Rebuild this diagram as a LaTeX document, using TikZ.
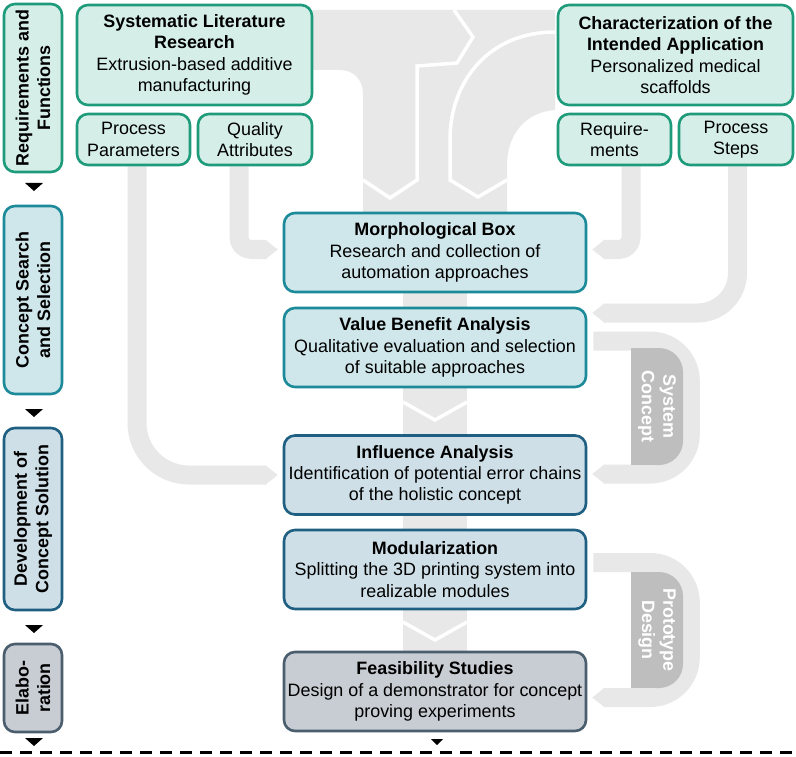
\documentclass[tikz,border=0pt]{standalone}
\usepackage{fontspec}
\setmainfont{Liberation Sans}
\usetikzlibrary{backgrounds}
\definecolor{grnL}{HTML}{D5EEE7}
\definecolor{grnD}{HTML}{1E9B7A}
\definecolor{cyL}{HTML}{CFE7EB}
\definecolor{cyD}{HTML}{1C8A99}
\definecolor{blL}{HTML}{CEDFE7}
\definecolor{blD}{HTML}{1E5F82}
\definecolor{slL}{HTML}{C8CDD3}
\definecolor{slD}{HTML}{4A5E6E}
\definecolor{bgG}{HTML}{E8E8E8}
\definecolor{tabG}{HTML}{BEBEBE}
\newcommand{\myfs}{\fontsize{17.9}{21.3}\selectfont}
\newcommand{\tipW}[1]{\fill[bgG] ([xshift=-17pt,yshift=9.5pt]#1) -- ([xshift=-5pt]#1) -- ([xshift=-17pt,yshift=-9.5pt]#1) -- cycle;}
\newcommand{\tipE}[1]{\fill[bgG] ([xshift=17pt,yshift=9.5pt]#1) -- ([xshift=5pt]#1) -- ([xshift=17pt,yshift=-9.5pt]#1) -- cycle;}
\tikzset{
  box/.style={draw, line width=2.6pt, rounded corners=11pt, align=center, inner sep=1pt, font=\myfs},
  gbox/.style={box, draw=grnD, fill=grnL},
  cbox/.style={box, draw=cyD, fill=cyL, minimum width=302pt, minimum height=79pt},
  bbox/.style={box, draw=blD, fill=blL, minimum width=302pt, minimum height=79pt},
  sbox/.style={box, draw=slD, fill=slL, minimum width=302pt, minimum height=79pt},
  phase/.style={box, rotate=90, font=\myfs\bfseries, minimum height=58pt},
  tabnode/.style={fill=tabG, rotate=-90, rounded corners=24pt, minimum height=52pt, text=white, font=\myfs\bfseries, align=center, inner sep=0pt},
  band/.style={draw=bgG, line width=19pt, line cap=butt, line join=round},
  wline/.style={draw=white, line width=3.5pt, line join=miter},
  marker/.style={fill=black}
}
\begin{document}
\begin{tikzpicture}[x=1pt,y=-1pt]
\useasboundingbox (0,0) rectangle (796,757);

% phase boxes
\node[phase, draw=grnD, fill=grnL, minimum width=168pt] (ph1) at (33,88) {Requirements and\\Functions};
\node[phase, draw=cyD, fill=cyL, minimum width=188pt] (ph2) at (33,300) {Concept Search\\and Selection};
\node[phase, draw=blD, fill=blL, minimum width=182pt] (ph3) at (33,519) {Development of\\Concept Solution};
\node[phase, draw=slD, fill=slL, minimum width=88pt] (ph4) at (33,688) {Elabo-\\ration};

% top boxes
\node[gbox, minimum width=235pt, minimum height=100pt] (slr) at (194.5,55) {\textbf{Systematic Literature}\\\textbf{Research}\\Extrusion-based additive\\manufacturing};
\node[gbox, minimum width=113pt, minimum height=51pt] (pp) at (133.5,139.5) {Process\\Parameters};
\node[gbox, minimum width=114pt, minimum height=51pt] (qa) at (255,139.5) {Quality\\Attributes};
\node[gbox, minimum width=235pt, minimum height=100pt] (cha) at (675.5,55) {\textbf{Characterization of the}\\\textbf{Intended Application}\\Personalized medical\\scaffolds};
\node[gbox, minimum width=113pt, minimum height=51pt] (rq) at (614.5,139.5) {Require-\\ments};
\node[gbox, minimum width=114pt, minimum height=51pt] (ps) at (736,139.5) {Process\\Steps};

% central boxes
\node[cbox] (morph) at (435,252.5) {\textbf{Morphological Box}\\Research and collection of\\automation approaches};
\node[cbox] (vba) at (435,347.5) {\textbf{Value Benefit Analysis}\\Qualitative evaluation and selection\\of suitable approaches};
\node[bbox] (infl) at (435,475) {\textbf{Influence Analysis}\\Identification of potential error chains\\of the holistic concept};
\node[bbox] (mod) at (435,569.5) {\textbf{Modularization}\\Splitting the 3D printing system into\\realizable modules};
\node[sbox] (feas) at (435,691.5) {\textbf{Feasibility Studies}\\Design of a demonstrator for concept\\proving experiments};

% tabs
\node[tabnode, minimum width=117pt] (sc) at (657,406.5) {System\\Concept};
\node[tabnode, minimum width=116pt] (pd) at (657,630) {Prototype\\Design};

% helper coordinates
\coordinate (qaEnd) at ([yshift=3pt]morph.west);
\coordinate (rqEnd) at ([yshift=3pt]morph.east);
\coordinate (psEnd) at ([yshift=34.5pt]vba.east);
\coordinate (scStart) at ([yshift=6.5pt]vba.east);
\coordinate (scEnd) at ([yshift=1pt]infl.east);
\coordinate (pdStart) at ([yshift=7pt]mod.east);
\coordinate (pdEnd) at ([yshift=-6pt]feas.east);

\begin{scope}[on background layer]
  \fill[white] (0,0) rectangle (796,757);
  % top junction
  \fill[bgG] (313,10) -- (555,10) -- (555,110) .. controls (525,112) and (507,135) .. (507,165) -- (507,212)
     -- (363,212) -- (363,94) .. controls (363,80) and (354,70) .. (340,70) -- (313,70) -- cycle;
  \draw[wline] (454,10) -- (473,37) -- (457,63) -- (417,66) -- (417,180) -- (390,198) -- (363,180);
  \draw[wline] (555,32) .. controls (490,32) and (450,80) .. (450,140) -- (450,180) -- (478,197) -- (507,180);
  % central column
  \fill[bgG] ([xshift=-32pt]morph.north) rectangle ([xshift=32pt]feas.south);
  \draw[wline] (403,402) -- (435,420) -- (467,402);
  \draw[wline] (403,622) -- (435,640) -- (467,622);
  % side connectors
  \draw[band, rounded corners=52pt, shorten >=16pt] ([xshift=3.5pt]pp.south) |- (infl.west);
  \tipW{infl.west}
  \draw[band, rounded corners=12pt, shorten >=16pt] ([xshift=-16pt]qa.south) |- (qaEnd);
  \tipW{qaEnd}
  \draw[band, rounded corners=12pt, shorten >=16pt] ([xshift=16.5pt]rq.south) |- (rqEnd);
  \tipE{rqEnd}
  \draw[band, rounded corners=40pt, shorten >=16pt] ([xshift=1.5pt]ps.south) |- (psEnd);
  \tipE{psEnd}
  \draw[band, rounded corners=40pt, shorten <=6pt, shorten >=16pt] (scStart) -- ++(103pt,0) |- (scEnd);
  \tipE{scEnd}
  \draw[band, rounded corners=40pt, shorten <=6pt, shorten >=16pt] (pdStart) -- ++(103pt,0) |- (pdEnd);
  \tipE{pdEnd}
  % square left side of tabs
  \fill[tabG] (631,348) rectangle (660,465);
  \fill[tabG] (631,572) rectangle (660,688);
\end{scope}

% phase markers
\fill[marker] (25,183) -- (43,183) -- (34,191) -- cycle;
\fill[marker] (25,409) -- (43,409) -- (34,417) -- cycle;
\fill[marker] (25,625) -- (43,625) -- (34,633) -- cycle;
\fill[marker] (25,738) -- (43,738) -- (34,746) -- cycle;
\fill[marker] (431,739) -- (443,739) -- (437,745) -- cycle;

% dashed line
\draw[line width=2.2pt, dash pattern=on 12pt off 8pt] (0,752.5) -- (796,752.5);
\end{tikzpicture}
\end{document}
